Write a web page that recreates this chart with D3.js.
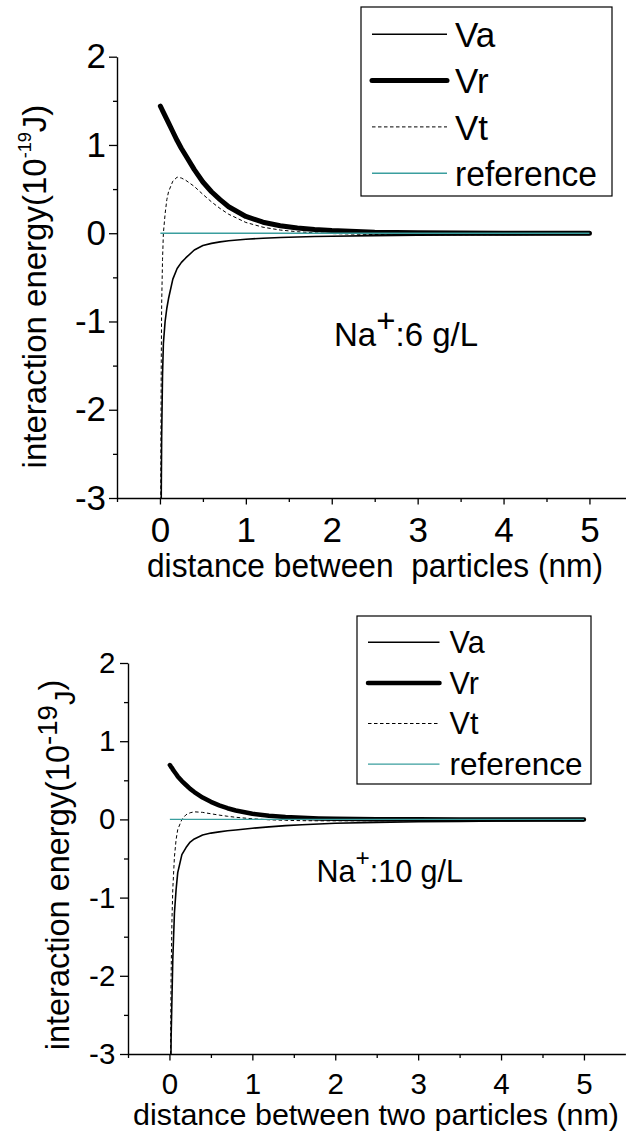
<!DOCTYPE html>
<html><head><meta charset="utf-8">
<script src="https://cdn.jsdelivr.net/npm/d3@7"></script>
<style>
html,body{margin:0;padding:0;background:#fff;}
svg{display:block;font-family:"Liberation Sans",Arial,sans-serif;}
</style></head><body>
<svg id="chart" width="626" height="1133"></svg>
<script>
// ---- data ----
const distance = [0.005,0.01,0.015,0.02,0.03,0.04,0.06,0.08,0.1,0.15,0.2,0.25,0.3,0.4,0.5,0.6,0.7,0.8,1.0,1.2,1.4,1.6,1.8,2.0,2.5,3.0,3.5,4.0,4.5,5.0];

// Na+ 6 g/L
const vaTop = [-8,-4.4,-3.0,-2.3,-1.6,-1.25,-1.0,-0.85,-0.74,-0.52,-0.40,-0.33,-0.28,-0.19,-0.14,-0.115,-0.098,-0.085,-0.068,-0.057,-0.049,-0.043,-0.038,-0.034,-0.027,-0.023,-0.019,-0.017,-0.015,-0.013];
const vrTop = [1.44,1.43,1.42,1.41,1.39,1.37,1.33,1.29,1.25,1.15,1.05,0.96,0.88,0.72,0.58,0.47,0.38,0.30,0.19,0.125,0.085,0.06,0.042,0.03,0.012,0.005,0.002,0.001,0,0];
const vtTop = [-6.5,-2.6,-1.5,-0.8,-0.3,0.0,0.22,0.38,0.47,0.59,0.635,0.625,0.60,0.53,0.44,0.355,0.28,0.215,0.122,0.068,0.036,0.017,0.004,-0.004,-0.015,-0.018,-0.017,-0.016,-0.015,-0.013];

// Na+ 10 g/L
const vaBottom = [-9,-5,-3.4,-2.8,-2.3,-1.8,-1.2,-0.9,-0.68,-0.45,-0.36,-0.29,-0.25,-0.2,-0.175,-0.16,-0.145,-0.135,-0.113,-0.095,-0.08,-0.068,-0.058,-0.05,-0.038,-0.03,-0.025,-0.021,-0.018,-0.016];
const vrBottom = [0.695,0.69,0.68,0.67,0.66,0.64,0.61,0.58,0.55,0.49,0.44,0.39,0.35,0.28,0.225,0.18,0.143,0.114,0.073,0.047,0.031,0.02,0.013,0.009,0.003,0.001,0,0,0,0];
const vtBottom = [-8.3,-4.3,-2.7,-2.0,-1.3,-0.9,-0.48,-0.26,-0.13,0.0,0.06,0.085,0.097,0.09,0.072,0.055,0.04,0.027,0.008,-0.005,-0.012,-0.016,-0.018,-0.018,-0.017,-0.016,-0.015,-0.014,-0.013,-0.012];

const referenceLevel = 0;
const xTickValues = [0,1,2,3,4,5];
const xMinorValues = [-0.5,0.5,1.5,2.5,3.5,4.5];
const yTickValues = [-3,-2,-1,0,1,2];
const yMinorValues = [-2.5,-1.5,-0.5,0.5,1.5];
const legendLabels = ["Va","Vr","Vt","reference"];
const xTitles = ["distance between  particles (nm)","distance between two particles (nm)"];
const concentrationLabels = [":6 g/L",":10 g/L"];
const xDomain = [-0.5,5.5];
const yDomain = [-3,2];

// ---- layout ----
const panels = [
  {va:vaTop, vr:vrTop, vt:vtTop, xRange:[117,632.4], yRange:[498,56.7], tickFont:35,
   xPad:12.7, yPad:3, vrW:5,
   ytitle:{x:46,y:286.5,font:33,supSize:0.55,supDy:-0.45,jDy:0.45,jSize:1,close:0},
   xtitle:{x:147,y:576.7,len:456,font:33, text:xTitles[0]},
   legend:{x0:361,y0:7,x1:612,y1:196,lx0:372,lx1:447,tx:455,ry0:34.3,step:46.3,font:35,refLen:142},
   note:{x:334,y:345.7,font:33,plusSize:1,plusDy:-0.42, text:concentrationLabels[0]}},
  {va:vaBottom, vr:vrBottom, vt:vtBottom, xRange:[128,625.4], yRange:[1054,663], tickFont:29.5,
   xPad:13, yPad:4.7, vrW:4.5,
   ytitle:{x:68.5,y:865,font:32.5,supSize:0.85,supDy:-0.35,jDy:0.55,jSize:0.9,close:-0.2},
   xtitle:{x:133,y:1125,len:486,font:29, text:xTitles[1]},
   legend:{x0:357,y0:616,x1:591,y1:784,lx0:368,lx1:439.5,tx:449.6,ry0:642.3,step:40.6,font:30.5,refLen:133},
   note:{x:316.5,y:881.7,font:30.5,plusSize:0.8,plusDy:-0.5, text:concentrationLabels[1]}}
];

const styleOf = {
  Va:{w:1.6, dash:null, color:"#000"},
  Vr:{w:5, dash:null, color:"#000"},
  Vt:{w:1, dash:"3.5,2.5", color:"#000"},
  reference:{w:1.4, dash:null, color:"#3a9e9e"}
};

const svg = d3.select("#chart");

panels.forEach((p, i) => {
  const x = d3.scaleLinear().domain(xDomain).range(p.xRange);
  const y = d3.scaleLinear().domain(yDomain).range(p.yRange);
  const g = svg.append("g");

  const clipId = "clip" + i;
  svg.append("defs").append("clipPath").attr("id", clipId)
    .append("rect").attr("x", p.xRange[0]).attr("y", p.yRange[1] - 2)
    .attr("width", 626 - p.xRange[0]).attr("height", p.yRange[0] - p.yRange[1] + 2);

  const xMinor = g.append("g").attr("transform", `translate(0,${p.yRange[0]})`)
    .call(d3.axisBottom(x).tickValues(xMinorValues).tickSize(4).tickSizeOuter(0).tickFormat(""));
  xMinor.select(".domain").remove();
  const yMinor = g.append("g").attr("transform", `translate(${p.xRange[0]},0)`)
    .call(d3.axisLeft(y).tickValues(yMinorValues).tickSize(4).tickSizeOuter(0).tickFormat(""));
  yMinor.select(".domain").remove();

  const xAx = g.append("g").attr("transform", `translate(0,${p.yRange[0]})`)
    .call(d3.axisBottom(x).tickValues(xTickValues).tickSize(6.5).tickSizeOuter(0)
      .tickPadding(p.xPad).tickFormat(d => String(d)));
  const yAx = g.append("g").attr("transform", `translate(${p.xRange[0]},0)`)
    .call(d3.axisLeft(y).tickValues(yTickValues).tickSize(8).tickSizeOuter(0)
      .tickPadding(p.yPad).tickFormat(d => String(d)));
  [xAx, yAx, xMinor, yMinor].forEach(a => {
    a.selectAll("line").attr("stroke", "#000").attr("stroke-width", 1.3);
    a.selectAll(".domain").attr("stroke", "#000").attr("stroke-width", 1.4);
    a.selectAll("text").attr("fill", "#000").style("font-size", p.tickFont + "px")
      .style("font-family", '"Liberation Sans", Arial, sans-serif');
  });

  const line = d3.line().x(d => x(d[0])).y(d => y(d[1]));
  const cg = g.append("g").attr("clip-path", `url(#${clipId})`);
  const series = [
    {key:"Va", vals:p.va},
    {key:"Vr", vals:p.vr},
    {key:"Vt", vals:p.vt}
  ];
  series.forEach(s => {
    const st = styleOf[s.key];
    cg.append("path").datum(distance.map((d, k) => [d, s.vals[k]]))
      .attr("d", line).attr("fill", "none").attr("stroke", st.color)
      .attr("stroke-width", s.key === "Vr" ? p.vrW : st.w)
      .attr("stroke-dasharray", st.dash)
      .attr("stroke-linecap", s.key === "Vr" ? "round" : "butt")
      .attr("stroke-linejoin", "round");
  });
  cg.append("path").datum([[distance[0], referenceLevel],[distance[distance.length-1], referenceLevel]])
    .attr("d", line).attr("fill", "none").attr("stroke", styleOf.reference.color)
    .attr("stroke-width", styleOf.reference.w);

  const L = p.legend;
  const lg = g.append("g");
  lg.append("rect").attr("x", L.x0).attr("y", L.y0).attr("width", L.x1 - L.x0).attr("height", L.y1 - L.y0)
    .attr("fill", "#fff").attr("stroke", "#000").attr("stroke-width", 1.2);
  legendLabels.forEach((lab, k) => {
    const st = styleOf[lab];
    const ry = L.ry0 + k * L.step;
    lg.append("line").attr("x1", L.lx0).attr("x2", L.lx1).attr("y1", ry).attr("y2", ry)
      .attr("stroke", st.color).attr("stroke-width", lab === "Vr" ? p.vrW : st.w)
      .attr("stroke-dasharray", st.dash).attr("stroke-linecap", lab === "Vr" ? "round" : "butt");
    const t = lg.append("text").attr("x", L.tx).attr("y", ry + L.font * 0.36)
      .style("font-size", L.font + "px").attr("fill", "#000").text(lab);
    if (lab === "reference") t.attr("textLength", L.refLen).attr("lengthAdjust", "spacingAndGlyphs");
  });

  const T = p.ytitle;
  const yt = g.append("text").attr("transform", `translate(${T.x},${T.y}) rotate(-90)`)
    .attr("text-anchor", "middle").style("font-size", T.font + "px").attr("fill", "#000");
  yt.append("tspan").text("interaction energy(10");
  yt.append("tspan").style("font-size", (T.font * T.supSize) + "px").attr("dy", (T.supDy * T.font) + "px").text("-19");
  yt.append("tspan").style("font-size", (T.font * T.jSize) + "px").attr("dy", (T.jDy * T.font) + "px").text("J");
  yt.append("tspan").attr("dy", ((-(T.supDy + T.jDy) + T.close) * T.font) + "px").text(")");

  const X = p.xtitle;
  g.append("text").attr("x", X.x).attr("y", X.y).style("font-size", X.font + "px")
    .style("white-space", "pre").attr("textLength", X.len).attr("lengthAdjust", "spacingAndGlyphs")
    .attr("fill", "#000").text(X.text);

  const N = p.note;
  const nt = g.append("text").attr("x", N.x).attr("y", N.y).style("font-size", N.font + "px").attr("fill", "#000");
  nt.append("tspan").text("Na");
  nt.append("tspan").style("font-size", (N.font * N.plusSize) + "px").attr("dy", (N.plusDy * N.font) + "px").text("+");
  nt.append("tspan").attr("dy", (-N.plusDy * N.font) + "px").text(N.text);
});
</script>
</body></html>
